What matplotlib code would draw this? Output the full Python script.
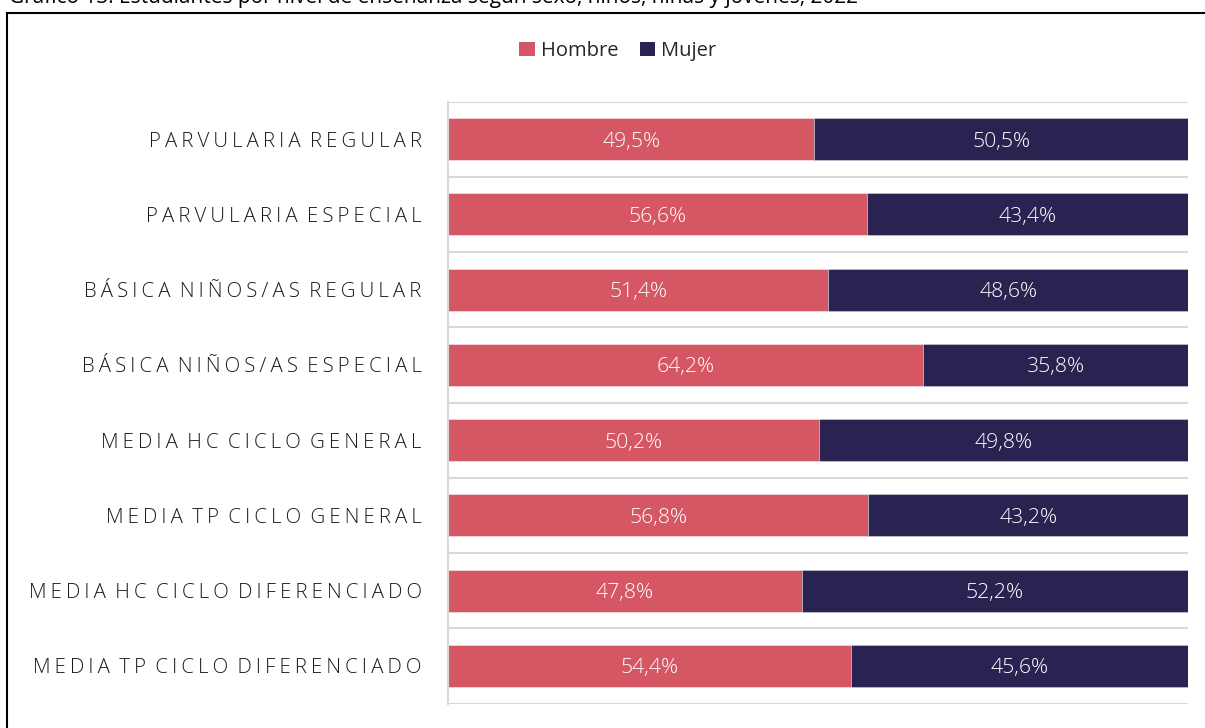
import matplotlib
matplotlib.use("Agg")
import matplotlib.pyplot as plt
from matplotlib.lines import Line2D
from matplotlib.patches import Patch

categories = ["PARVULARIA REGULAR", "PARVULARIA ESPECIAL", "BÁSICA NIÑOS/AS REGULAR",
              "BÁSICA NIÑOS/AS ESPECIAL", "MEDIA HC CICLO GENERAL", "MEDIA TP CICLO GENERAL",
              "MEDIA HC CICLO DIFERENCIADO", "MEDIA TP CICLO DIFERENCIADO"]
hombre = [49.5, 56.6, 51.4, 64.2, 50.2, 56.8, 47.8, 54.4]
mujer = [50.5, 43.4, 48.6, 35.8, 49.8, 43.2, 52.2, 45.6]
series_names = ["Hombre", "Mujer"]
title = "Gráfico 13: Estudiantes por nivel de enseñanza según sexo, niños, niñas y jóvenes, 2022"

C_H = "#D55763"
C_M = "#292352"
FAM = ["Open Sans", "DejaVu Sans"]

W, H = 1205, 728
fig = plt.figure(figsize=(W / 100, H / 100), dpi=100)
ax = fig.add_axes([448 / W, 1 - 703.5 / H, (1188 - 448) / W, (703.5 - 101.5) / H])

y = list(range(len(categories)))
ax.barh(y, hombre, height=0.56, color=C_H, edgecolor=(1, 1, 1, 0.45), linewidth=0.7)
ax.barh(y, mujer, left=hombre, height=0.56, color=C_M, edgecolor=(1, 1, 1, 0.35), linewidth=0.7)

for i, (h, m) in enumerate(zip(hombre, mujer)):
    ax.text(h / 2, i, f"{h:.1f}%".replace(".", ","), ha="center", va="center_baseline",
            color="white", fontsize=15.3, family=FAM, fontweight="light")
    ax.text(h + m / 2, i, f"{m:.1f}%".replace(".", ","), ha="center", va="center_baseline",
            color="white", fontsize=15.3, family=FAM, fontweight="light")

ax.set_xlim(0, 100)
ax.set_ylim(len(categories) - 0.5, -0.5)
for b in range(len(categories) + 1):
    ax.axhline(b - 0.5, color="#d9d9d9", lw=1.5, zorder=0)

for s in ["top", "right", "bottom"]:
    ax.spines[s].set_visible(False)
ax.spines["left"].set_color("#d9d9d9")
ax.spines["left"].set_linewidth(1.5)
ax.set_xticks([])

spaced = ["\u2009".join(list(c)).replace("\u2009 \u2009", " \u2009") for c in categories]
ax.set_yticks(y)
ax.set_yticklabels(spaced, fontsize=14.7, family=FAM, color="#1a1a1a", fontweight="light")
ax.tick_params(axis="y", length=0, pad=19)

handles = [Patch(facecolor=C_H, edgecolor="none"), Patch(facecolor=C_M, edgecolor="none")]
fig.legend(handles, series_names, loc="center", bbox_to_anchor=(618 / W, 1 - 51 / H),
           ncol=2, frameon=False, prop={"family": FAM, "size": 14.5},
           handlelength=0.75, handleheight=0.75, handletextpad=0.3, columnspacing=1.1,
           labelcolor="#262626")

# border
x0 = 7.5 / W
yt = 1 - 12.5 / H
fig.add_artist(Line2D([x0, 1.01], [yt, yt], transform=fig.transFigure, color="black", lw=1.5))
fig.add_artist(Line2D([x0, x0], [yt, -0.01], transform=fig.transFigure, color="black", lw=1.5))

fig.text(9 / W, 1 - 3 / H, title, ha="left", va="baseline", fontsize=15, family=FAM, color="black")

fig.savefig("out.png", dpi=100)
